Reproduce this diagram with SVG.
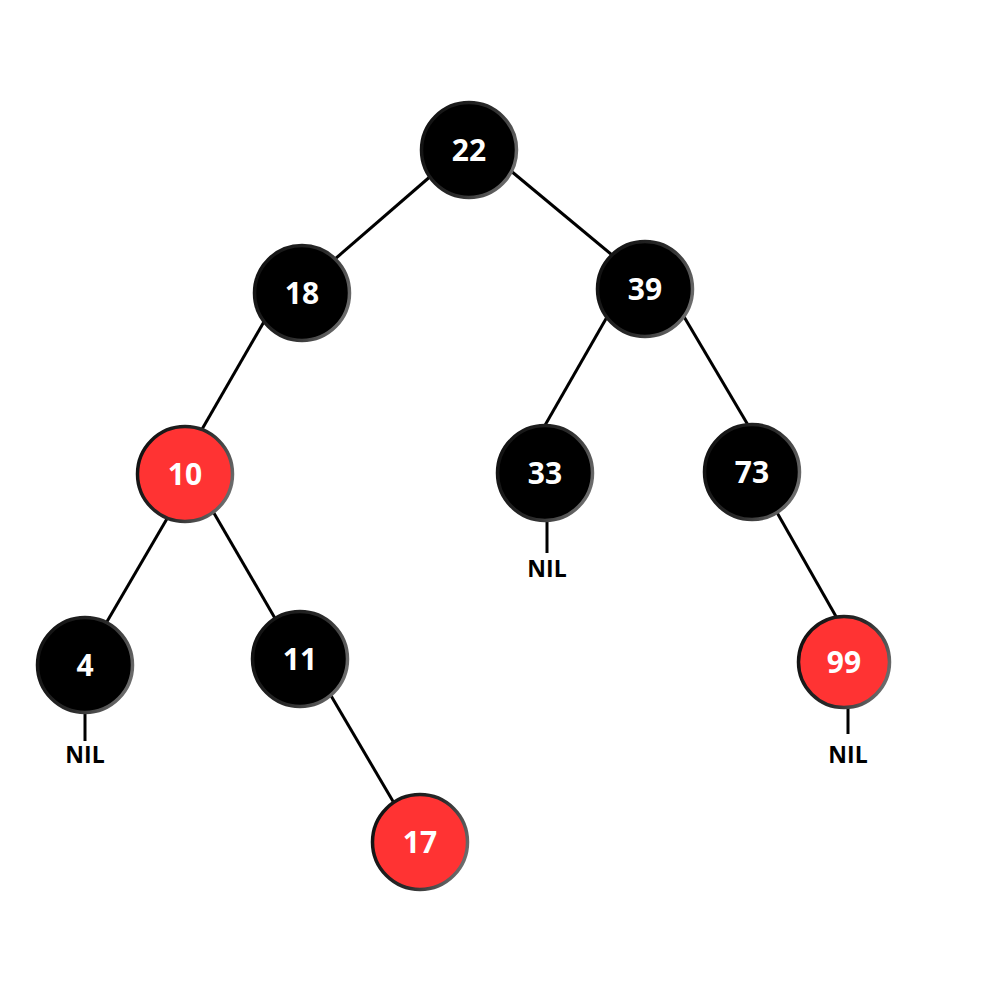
<svg xmlns="http://www.w3.org/2000/svg" width="1000" height="1000" viewBox="0 0 1000 1000">
  <defs>
    <linearGradient id="rim" x1="0" y1="0.3" x2="1" y2="0.7">
      <stop offset="0" stop-color="#111111"/>
      <stop offset="0.55" stop-color="#2a2a2a"/>
      <stop offset="1" stop-color="#707070"/>
    </linearGradient>
    <style>
      .node circle { stroke: url(#rim); stroke-width: 3.5; }
      .black circle { fill: #000000; }
      .red circle { fill: #FF3333; }
      .node text { font-family: "Open Sans", "Noto Sans", "DejaVu Sans", sans-serif; font-weight: 700; font-size: 30px; fill: #FFFFFF; text-anchor: middle; }
      .edge { stroke: #000000; stroke-width: 3; fill: none; }
      .nil { font-family: "Open Sans", "Noto Sans", "DejaVu Sans", sans-serif; font-weight: 700; font-size: 23px; fill: #000000; text-anchor: middle; }
    </style>
  </defs>
  <rect width="1000" height="1000" fill="#FFFFFF"/>
  <g id="connectors">
    <line class="edge" x1="432" y1="175" x2="335" y2="259"/>
    <line class="edge" x1="511" y1="171" x2="612" y2="255"/>
    <line class="edge" x1="265" y1="320" x2="201" y2="431"/>
    <line class="edge" x1="607" y1="317" x2="544" y2="427"/>
    <line class="edge" x1="683" y1="315" x2="748" y2="425"/>
    <line class="edge" x1="168" y1="517" x2="105" y2="625"/>
    <line class="edge" x1="211" y1="508" x2="276" y2="620"/>
    <line class="edge" x1="775" y1="509" x2="838" y2="620"/>
    <line class="edge" x1="330" y1="694" x2="394" y2="803"/>
    <line class="edge" x1="547" y1="521" x2="547" y2="553"/>
    <line class="edge" x1="85" y1="712" x2="85" y2="741"/>
    <line class="edge" x1="848" y1="706" x2="848" y2="734"/>
  </g>
  <g id="node-22" class="node black"><circle cx="469" cy="150" r="47.5"/><text x="469" y="161">22</text></g>
  <g id="node-18" class="node black"><circle cx="302" cy="293" r="47.5"/><text x="302" y="304">18</text></g>
  <g id="node-39" class="node black"><circle cx="645" cy="289" r="47.5"/><text x="645" y="300">39</text></g>
  <g id="node-10" class="node red"><circle cx="185" cy="474" r="47.5"/><text x="185" y="485">10</text></g>
  <g id="node-33" class="node black"><circle cx="545" cy="473" r="47.5"/><text x="545" y="484">33</text></g>
  <g id="node-73" class="node black"><circle cx="752" cy="472" r="47.5"/><text x="752" y="483">73</text></g>
  <g id="node-4" class="node black"><circle cx="85" cy="665" r="47.5"/><text x="85" y="676">4</text></g>
  <g id="node-11" class="node black"><circle cx="300" cy="659" r="47.5"/><text x="300" y="670">11</text></g>
  <g id="node-99" class="node red"><circle cx="844" cy="662" r="45.5"/><text x="844" y="673">99</text></g>
  <g id="node-17" class="node red"><circle cx="420" cy="842" r="47.5"/><text x="420" y="853">17</text></g>
  <g id="nil-33"><text class="nil" x="547" y="577">NIL</text></g>
  <g id="nil-4"><text class="nil" x="85" y="763">NIL</text></g>
  <g id="nil-99"><text class="nil" x="848" y="763">NIL</text></g>
</svg>
